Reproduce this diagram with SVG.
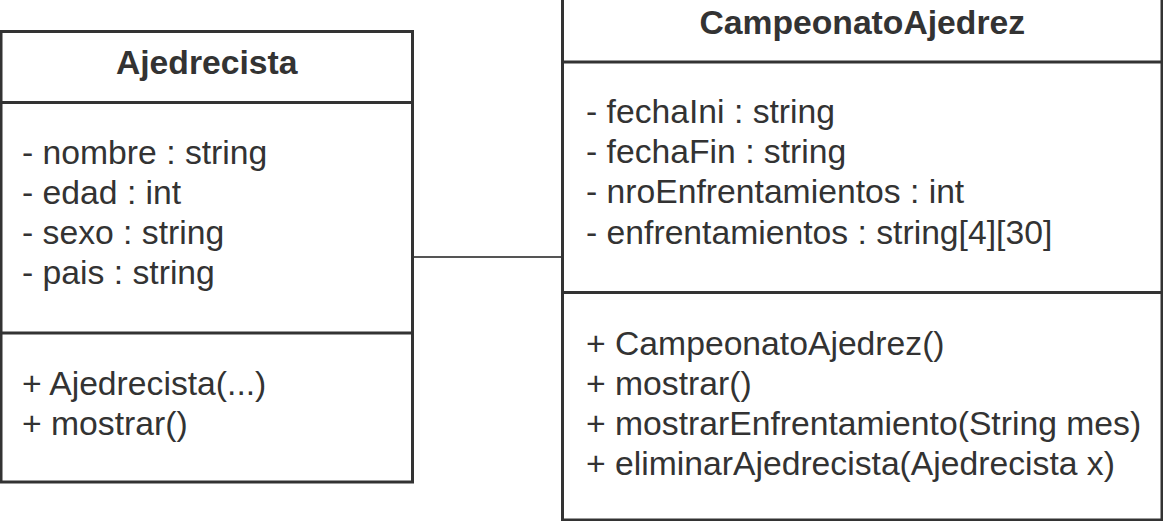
<svg xmlns="http://www.w3.org/2000/svg" width="1163" height="521" viewBox="0 0 1163 521">
<style>
.box{fill:#fff;stroke:#333;stroke-width:3}
.div{stroke:#333;stroke-width:3}
.title{font-family:"Liberation Sans",Arial,sans-serif;font-weight:bold;font-size:33.7px;fill:#333;text-anchor:middle}
.t{font-family:"Liberation Sans",Arial,sans-serif;font-size:33.7px;fill:#333}
.conn{stroke:#555;stroke-width:2;fill:none}
</style>
<g id="connectors">
<line class="conn" x1="413" y1="257" x2="562" y2="257"/>
</g>
<g id="Ajedrecista">
<rect class="box" x="1" y="31.5" width="411.5" height="450.5"/>
<line class="div" x1="1" y1="102.5" x2="412.5" y2="102.5"/>
<line class="div" x1="1" y1="333" x2="412.5" y2="333"/>
<text class="title" x="206.75" y="74">Ajedrecista</text>
<text class="t" x="22" y="164">- nombre : string</text>
<text class="t" x="22" y="204">- edad : int</text>
<text class="t" x="22" y="244">- sexo : string</text>
<text class="t" x="22" y="284">- pais : string</text>
<text class="t" x="22" y="395">+ Ajedrecista(...)</text>
<text class="t" x="22" y="435">+ mostrar()</text>
</g>
<g id="CampeonatoAjedrez">
<rect class="box" x="562.5" y="-10" width="599.5" height="530"/>
<line class="div" x1="562.5" y1="62" x2="1162" y2="62"/>
<line class="div" x1="562.5" y1="292.5" x2="1162" y2="292.5"/>
<text class="title" x="862.25" y="34">CampeonatoAjedrez</text>
<text class="t" x="586" y="123">- fechaIni : string</text>
<text class="t" x="586" y="163">- fechaFin : string</text>
<text class="t" x="586" y="203">- nroEnfrentamientos : int</text>
<text class="t" x="586" y="244">- enfrentamientos : string[4][30]</text>
<text class="t" x="586" y="355">+ CampeonatoAjedrez()</text>
<text class="t" x="586" y="395">+ mostrar()</text>
<text class="t" x="586" y="435">+ mostrarEnfrentamiento(String mes)</text>
<text class="t" x="586" y="475">+ eliminarAjedrecista(Ajedrecista x)</text>
</g>
</svg>
